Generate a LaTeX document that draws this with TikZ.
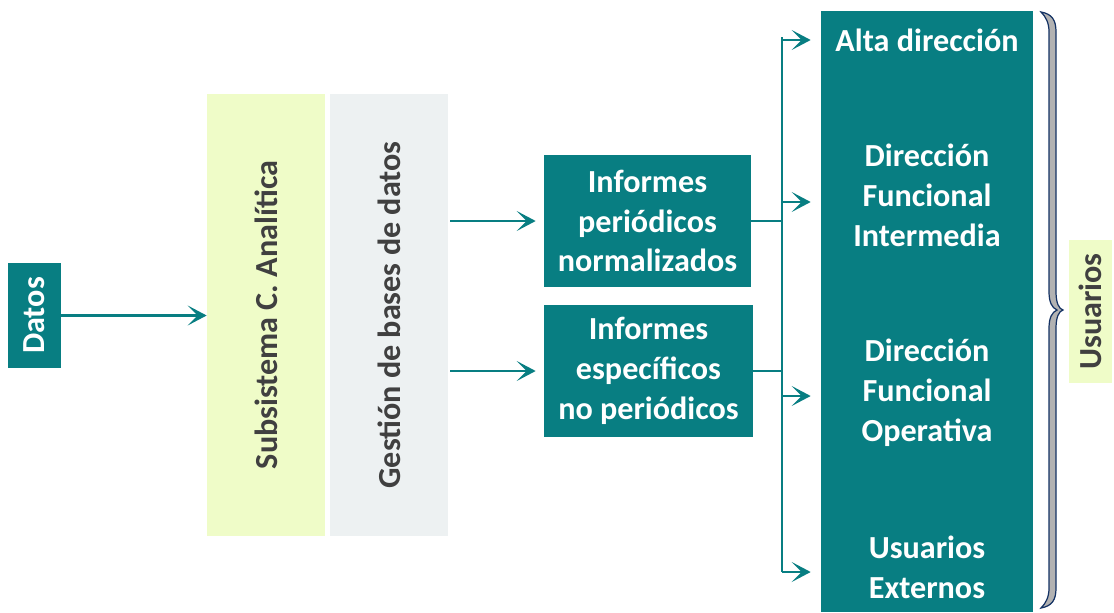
\documentclass[tikz,border=0pt]{standalone}
\usepackage{fontspec}
\setmainfont{Carlito}
\usepackage{tikz}
\usetikzlibrary{arrows.meta,positioning,calc}
\definecolor{tealbox}{RGB}{8,126,130}
\definecolor{paleyellow}{RGB}{239,252,200}
\definecolor{palegray}{RGB}{237,241,242}
\definecolor{darktext}{RGB}{64,64,64}
\definecolor{bracenavy}{RGB}{20,50,100}
\tikzset{>=latex,
    bigfont/.style={font=\fontsize{18.3}{22.7}\selectfont\bfseries},
    tealbox/.style={bigfont, fill=tealbox, text=white, align=center, inner sep=0pt},
    palebox/.style={bigfont, text=darktext, inner sep=0pt, rotate=90},
    flow/.style={draw=tealbox, line width=1.6pt,
      -{Stealth[length=0.38cm, width=0.4cm, inset=0.2cm]}}}
\begin{document}
\begin{tikzpicture}[x=0.02cm, y=-0.02cm,
      wire/.style={draw=tealbox, line width=1.6pt}]
  \useasboundingbox (0,0) rectangle (1114,612);
  % left column
  \node[tealbox, rotate=90, minimum width=2.1cm, minimum height=1.06cm] (datos) at (34.5,315.5) {Datos};
  \node[palebox, fill=paleyellow, minimum width=8.84cm, minimum height=2.36cm] (subsis) at (266,315) {Subsistema C. Analítica};
  \node[palebox, fill=palegray, minimum width=8.84cm, minimum height=2.36cm] (gestion) at (389,315) {Gestión de bases de datos};
  % reports
  \node[tealbox, minimum width=4.14cm, minimum height=2.64cm] (infper) at (647.5,221) {Informes\\periódicos\\normalizados};
  \node[tealbox, minimum width=4.18cm, minimum height=2.64cm] (infesp) at (648.5,371) {Informes\\específicos\\no periódicos};
  % users
  \node[tealbox, minimum width=4.24cm, minimum height=12.02cm] (users) at (927,311.5) {};
  \node[bigfont, text=white] (alta) at (927,40) {Alta dirección};
  \node[bigfont, text=white, align=center] (inter) at (927,195) {Dirección\\Funcional\\Intermedia};
  \node[bigfont, text=white, align=center] (opera) at (927,393) {Dirección\\Funcional\\Operativa};
  \node[bigfont, text=white, align=center] (extern) at (927,567) {Usuarios\\Externos};
  \node[palebox, fill=paleyellow, minimum width=2.86cm, minimum height=0.86cm] (usuarios) at (1090.5,311.5) {Usuarios};
  % connectors
  \draw[flow] (datos.south) -- (datos.south -| subsis.north);
  \draw[flow, shorten >=0.16cm] ([xshift=1pt]gestion.south |- infper) -- (infper.west);
  \draw[flow, shorten >=0.16cm] ([xshift=1pt]gestion.south |- infesp) -- (infesp.west);
  \coordinate (bustop) at (782,37);
  \coordinate (busbot) at (782,572);
  \draw[wire] (infper.east) -- (infper.east -| bustop);
  \draw[wire] (infesp.east) -- (infesp.east -| bustop);
  \draw[wire] (bustop) -- (busbot);
  \foreach \n/\dy in {alta/0,inter/7,opera/3,extern/5}
    \draw[flow, shorten >=0.2cm] ([yshift=-\dy*0.02cm]bustop |- \n) -- ([yshift=-\dy*0.02cm]users.west |- \n);
  % brace
  \filldraw[fill=black!30, draw=bracenavy, line width=0.7pt]
    (1041,12) .. controls (1052,14) and (1056,20) .. (1056,32) -- (1056,292)
    .. controls (1056,303) and (1059,309) .. (1063,310)
    .. controls (1059,311) and (1056,317) .. (1056,328) -- (1056,588)
    .. controls (1056,600) and (1052,606) .. (1041,608)
    .. controls (1046,603) and (1049,597) .. (1049,588) -- (1049,328)
    .. controls (1049,318) and (1052,312) .. (1057,310)
    .. controls (1052,308) and (1049,302) .. (1049,292) -- (1049,32)
    .. controls (1049,23) and (1046,17) .. (1041,12) -- cycle;
\end{tikzpicture}
\end{document}
